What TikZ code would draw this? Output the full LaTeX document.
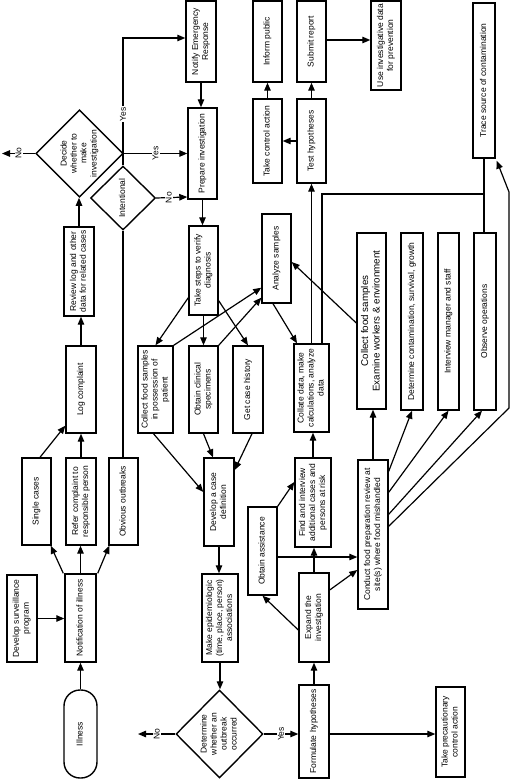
\documentclass[tikz,border=0pt]{standalone}
\usepackage{fontspec}
\setmainfont{Liberation Sans}
\usetikzlibrary{arrows.meta,shapes.geometric}
\newcommand{\fsz}{\fontsize{8.5}{10}\selectfont}
\newcommand{\fbig}{\fontsize{9.8}{11.5}\selectfont}
\newcommand{\rtx}[1]{\rotatebox{90}{\begin{tabular}{@{}c@{}}#1\end{tabular}}}
\begin{document}
\begin{tikzpicture}[x=1pt,y=-1pt,
  box/.style={draw, line width=1.4pt, inner sep=0pt, font=\fsz, align=center},
  dia/.style={draw, diamond, line width=1.4pt, inner sep=0pt, font=\fsz},
  arr/.style={line width=1.2pt, -{Triangle[length=8pt,width=6.5pt]}},
  ln/.style={line width=1.2pt},
  lab/.style={fill=white, inner sep=1pt, font=\fsz}]
\useasboundingbox (0,0) rectangle (511,780);

% left column
\node[box, minimum width=30pt, minimum height=81pt] (notify) at (201,41.5) {\rtx{Notify Emergency\\Response}};
\node[box, minimum width=29pt, minimum height=91pt] (prep) at (202.5,153.5) {\rtx{Prepare investigation}};
\node[dia, minimum width=87pt, minimum height=87pt] (dec) at (79.5,153.5) {\rtx{Decide\\whether to\\make\\investigation}};
\node[dia, minimum width=65pt, minimum height=64pt] (intent) at (123,198) {\rtx{Intentional}};
\node[box, minimum width=30pt, minimum height=89pt] (review) at (79,271.5) {\rtx{Review log and other\\data for related cases}};
\node[box, minimum width=30pt, minimum height=87pt] (logc) at (81,389.5) {\rtx{Log complaint}};
\node[box, minimum width=29pt, minimum height=87pt] (single) at (36.5,501.5) {\rtx{Single cases}};
\node[box, minimum width=30pt, minimum height=87pt] (refer) at (81,501.5) {\rtx{Refer complaint to\\responsible person}};
\node[box, minimum width=29pt, minimum height=87pt] (obvious) at (123.5,501.5) {\rtx{Obvious outbreaks}};
\node[box, minimum width=31pt, minimum height=88pt] (notif) at (80.5,618) {\rtx{Notification of illness}};
\node[box, minimum width=30pt, minimum height=87pt] (devsurv) at (22,618.5) {\rtx{Develop surveillance\\program}};
\node[box, rounded corners=16pt, minimum width=33pt, minimum height=88pt] (illness) at (80.5,734) {\rtx{Illness}};

% middle
\node[box, minimum width=29pt, minimum height=89pt] (takesteps) at (203.5,270.5) {\rtx{Take steps to verify\\diagnosis}};
\node[box, minimum width=35pt, minimum height=87pt] (collectp) at (155.5,389.5) {\rtx{Collect food samples\\in possession of\\patient}};
\node[box, minimum width=29pt, minimum height=87pt] (obtainc) at (203.5,389.5) {\rtx{Obtain clinical\\specimens}};
\node[box, minimum width=30pt, minimum height=87pt] (gethist) at (248,389.5) {\rtx{Get case history}};
\node[box, minimum width=29pt, minimum height=89pt] (analyze) at (276.5,258.5) {\rtx{Analyze samples}};
\node[box, minimum width=35pt, minimum height=88pt] (collate) at (311.5,388) {\rtx{Collate data, make\\calculations, analyze\\data}};
\node[box, minimum width=29pt, minimum height=84pt] (testh) at (311.5,141) {\rtx{Test hypotheses}};
\node[box, minimum width=29pt, minimum height=84pt] (takectrl) at (267.5,141) {\rtx{Take control action}};
\node[box, minimum width=29pt, minimum height=81pt] (inform) at (267.5,41.5) {\rtx{Inform public}};
\node[box, minimum width=29pt, minimum height=81pt] (submit) at (311.5,41.5) {\rtx{Submit report}};
\node[box, minimum width=30pt, minimum height=89pt] (usedata) at (386,45.5) {\rtx{Use investigative data\\for prevention}};
\node[box, minimum width=22pt, minimum height=155pt] (trace) at (484,80.5) {\rtx{Trace source of contamination}};

% right column
\node[box, font=\fbig, minimum width=29pt, minimum height=176pt] (collectf) at (371.5,321) {\rtx{Collect food samples\\Examine workers \& environment}};
\node[box, minimum width=22pt, minimum height=177pt] (determ) at (412,321.5) {\rtx{Determine contamination, survival, growth}};
\node[box, minimum width=21pt, minimum height=177pt] (intervw) at (448.5,321.5) {\rtx{Interview manager and staff}};
\node[box, minimum width=22pt, minimum height=177pt] (observe) at (485,321.5) {\rtx{Observe operations}};
\node[box, minimum width=30pt, minimum height=149pt] (conduct) at (373,534.5) {\rtx{Conduct food preparation review at\\site(s) where food mishandled}};
\node[box, minimum width=36pt, minimum height=89pt] (findint) at (313,502.5) {\rtx{Find and interview\\additional cases and\\persons at risk}};
\node[box, minimum width=29pt, minimum height=88pt] (obtaina) at (262.5,551) {\rtx{Obtain assistance}};
\node[box, minimum width=30pt, minimum height=89pt] (expand) at (314,617.5) {\rtx{Expand the\\investigation}};
\node[box, minimum width=30pt, minimum height=93pt] (formul) at (314,731.5) {\rtx{Formulate hypotheses}};
\node[box, minimum width=29pt, minimum height=90pt] (precaut) at (450.5,732) {\rtx{Take precautionary\\control action}};
\node[dia, minimum width=87pt, minimum height=88pt] (dwhether) at (219.5,734) {\rtx{Determine\\whether an\\outbreak\\occurred}};
\node[box, minimum width=30pt, minimum height=88pt] (devcase) at (219,502) {\rtx{Develop a case\\definition}};
\node[box, minimum width=36pt, minimum height=88pt] (makeepi) at (220,618) {\rtx{Make epidemiologic\\(time, place, person)\\associations}};

\coordinate (noA) at (2,153.5);
\coordinate (noB) at (138,734);
\coordinate (jn) at (484,194);
\coordinate (edgeA) at (509,408);
\coordinate (edgeB) at (509,192);

% connectors, left
\draw[arr] (dec.west) -- (noA) node[midway, lab] {\rotatebox{90}{No}};
\draw[arr] (dec.east) -- (dec.east -| prep.west) node[midway, lab] {\rotatebox{90}{Yes}};
\draw[arr] (intent.north) |- ([yshift=3.5pt]notify.west) node[pos=0.2, lab] {\rotatebox{90}{Yes}};
\draw[arr] (intent.east) -- ([yshift=1pt]intent.east -| prep.west) node[pos=0.4, lab] {\rotatebox{90}{No}};
\draw[arr] (notify.south) -- (notify.south |- prep.north);
\draw[ln] (intent.south) -- (intent.south |- obvious.north);
\draw[arr] (review.north) -- (review.north |- dec.south);
\draw[arr] (logc.north) -- (logc.north |- review.south);
\draw[arr] ([xshift=3.5pt]single.north) -- ([yshift=8pt]logc.south west);
\draw[arr] (refer.north) -- (refer.north |- logc.south);
\draw[arr] ([xshift=-1pt]notif.north west) -- ([xshift=-1pt]single.south east);
\draw[arr] (notif.north) -- (notif.north |- refer.south);
\draw[arr] ([xshift=1pt]notif.north east) -- ([xshift=1pt]obvious.south west);
\draw[arr] (devsurv.east) -- (devsurv.east -| notif.west);
\draw[arr] (illness.north) -- (notif.south);

% connectors, middle
\draw[arr] (prep.south) -- (prep.south |- takesteps.north);
\draw[arr] ([yshift=18pt]takesteps.south west) -- (collectp.north);
\draw[arr] (takesteps.south) -- (takesteps.south |- obtainc.north);
\draw[arr] ([yshift=15pt]takesteps.south east) -- (gethist.north);
\draw[arr] (collectp.north east) -- ([yshift=16pt]analyze.south west);
\draw[arr] (obtainc.north east) -- ([yshift=6pt]analyze.south west);
\draw[arr] ([xshift=-3.5pt]analyze.south) -- ([xshift=-14.5pt]collate.north);
\draw[arr] (collate.north) -- (collate.north |- testh.south);
\draw[ln] ([xshift=10.5pt]collate.north) |- (jn);
\draw[ln] (trace.south) -- (trace.south |- observe.north);
\draw[arr] (testh.west) -- (testh.west -| takectrl.east);
\draw[arr] (takectrl.north) -- (takectrl.north |- inform.south);
\draw[arr] (testh.north) -- (testh.north |- submit.south);
\draw[arr] ([yshift=1.5pt]submit.east) -- ([yshift=1.5pt]submit.east -| usedata.west);
\draw[arr] ([yshift=-2pt]collectf.west) -- ([yshift=-3.5pt]analyze.east);

\draw[arr] ([xshift=-2pt]collectp.south) -- ([yshift=10pt]devcase.west);
\draw[arr] (obtainc.south) -- ([xshift=-6pt]devcase.north);
\draw[arr] ([xshift=4pt]gethist.south) -- ([yshift=32pt]devcase.east);
\draw[arr] (devcase.south) -- (devcase.south |- makeepi.north);
\draw[arr] (makeepi.south) -- (makeepi.south |- dwhether.north);
\draw[arr] (dwhether.west) -- (noB) node[midway, lab] {\rotatebox{90}{No}};
\draw[arr] (dwhether.east) -- (dwhether.east -| formul.west) node[midway, lab] {\rotatebox{90}{Yes}};
\draw[arr] (formul.east |- dwhether.east) -- (precaut.west |- dwhether.east);

% connectors, right
\draw[arr] (formul.north) -- (formul.north |- expand.south);
\draw[arr] (expand.north) -- (expand.north |- findint.south);
\draw[arr] (findint.north) -- (findint.north |- collate.south);
\draw[arr] ([yshift=-12.5pt]expand.west) -- (obtaina.south);
\draw[arr] ([yshift=27.5pt]expand.east) -- ([yshift=-35.5pt]conduct.west);
\draw[arr] (obtaina.north east) -- ([yshift=20.5pt]findint.west);
\draw[arr] ([yshift=-6pt]obtaina.east) -- ([yshift=-6pt]obtaina.east -| conduct.west);
\draw[arr] (conduct.north) -- (conduct.north |- collectf.south);
\draw[arr] ([yshift=-12pt]conduct.north east) -- (determ.south);
\draw[arr] ([yshift=-33pt]conduct.north east) -- (intervw.south);
\draw[arr] ([yshift=-55pt]conduct.north east) -- ([xshift=-3pt]observe.south);
\draw[arr] ([yshift=-67pt]conduct.north east) -- (edgeA) -- (edgeB) -- ([xshift=1pt,yshift=-2pt]trace.south east);
\end{tikzpicture}
\end{document}
